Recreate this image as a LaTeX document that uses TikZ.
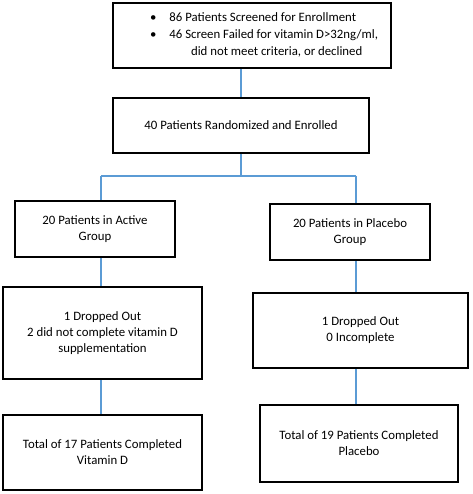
\documentclass[tikz,border=0pt]{standalone}
\usepackage{fontspec}
\setmainfont{Carlito}
\definecolor{linkblue}{RGB}{91,155,213}
\tikzset{
  box/.style={draw=black, line width=2pt, align=center, inner sep=2pt,
    text=black, font=\fontsize{12.8}{16}\selectfont},
  link/.style={draw=linkblue, line width=1.1pt}
}

\begin{document}
\begin{tikzpicture}[x=1pt,y=-1pt]
  \useasboundingbox (0,0) rectangle (472,494);

  % Screening and randomization
  \node[box, minimum width=278pt, minimum height=65pt] (screen) at (252,35.5)
    {\fontsize{12.8}{17}\selectfont
     \begin{tabular}{@{\hspace{24pt}}c@{\hspace{13pt}}l@{}}
       \textbullet & 86 Patients Screened for Enrollment\\
       \textbullet & 46 Screen Failed for vitamin D>32ng/ml,\\
                   & \multicolumn{1}{c@{}}{did not meet criteria, or declined}
     \end{tabular}};
  \node[box, minimum width=256pt, minimum height=55pt] (rand) at (241,125.5)
    {40 Patients Randomized and Enrolled};

  % Groups
  \node[box, minimum width=160pt, minimum height=56pt] (active) at (95,229)
    {20 Patients in Active\\Group};
  \node[box, minimum width=160pt, minimum height=56pt] (placebo) at (350,232)
    {20 Patients in Placebo\\Group};

  % Drop outs
  \node[box, minimum width=199pt, minimum height=92pt] (dropA) at (102.5,333)
    {1 Dropped Out\\2 did not complete vitamin D\\supplementation};
  \node[box, minimum width=215pt, minimum height=75pt] (dropP) at (360.5,330.5)
    {1 Dropped Out\\0 Incomplete};

  % Completed
  \node[box, minimum width=199pt, minimum height=75pt] (totA) at (102.5,452.5)
    {Total of 17 Patients Completed\\Vitamin D};
  \node[box, minimum width=198pt, minimum height=77pt] (totP) at (359,443.5)
    {Total of 19 Patients Completed\\Placebo};

  % Connectors
  \coordinate (split) at (241,176);
  \coordinate (colA) at (101,0);
  \coordinate (colP) at (356,0);
  \draw[link] (rand.north) -- (rand.north |- screen.south);
  \draw[link] (rand.south) -- (split);
  \draw[link] (colA |- split) -- (colP |- split);
  \draw[link] (colA |- split) -- (colA |- active.north);
  \draw[link] (colP |- split) -- (colP |- placebo.north);
  \draw[link] (colA |- active.south) -- (colA |- dropA.north);
  \draw[link] (colA |- dropA.south) -- (colA |- totA.north);
  \draw[link] (colP |- placebo.south) -- (colP |- dropP.north);
  \draw[link] (colP |- dropP.south) -- (colP |- totP.north);
\end{tikzpicture}
\end{document}
